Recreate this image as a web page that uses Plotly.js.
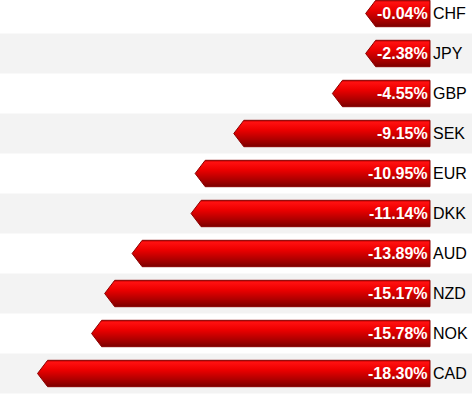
<!DOCTYPE html>
<html>
<head>
<meta charset="utf-8">
<script src="https://cdn.plot.ly/plotly-3.0.1.min.js"></script>
<style>
html,body{margin:0;padding:0;background:#fff;overflow:hidden;}
#chart{width:472px;height:398px;}
</style>
</head>
<body>
<div id="chart"></div>
<script>
// ---- data ----
var currencies = ['CHF','JPY','GBP','SEK','EUR','DKK','AUD','NZD','NOK','CAD'];
var changes = [-0.04,-2.38,-4.55,-9.15,-10.95,-11.14,-13.89,-15.17,-15.78,-18.30];
var valueLabels = changes.map(function(v){ return v.toFixed(2) + '%'; });

// ---- style constants ----
var MIN_LEN = 3.0;      // minimum bar length (data units) to hold the label
var HEAD = 0.47;        // arrow head length (data units)
var HALF = 0.33;        // half bar height (category units)
var FONT = 'Liberation Sans, Arial, sans-serif';

var traces = [];
changes.forEach(function(v, i){
  var left = Math.min(v, -MIN_LEN);
  traces.push({
    type: 'scatter',
    mode: 'lines',
    x: [0, left + HEAD, left, left + HEAD, 0, 0],
    y: [i - HALF, i - HALF, i, i + HALF, i + HALF, i - HALF],
    fill: 'toself',
    fillgradient: {
      type: 'vertical',
      colorscale: [[0, '#7a0000'], [0.15, '#990000'], [0.65, '#ee0000'], [0.92, '#ff1010'], [1, '#c00000']]
    },
    line: {color: '#8a0000', width: 1},
    hoverinfo: 'skip',
    showlegend: false
  });
});

var shapes = [];
currencies.forEach(function(c, i){
  if (i % 2 === 1) {
    shapes.push({
      type: 'rect', layer: 'below', xref: 'paper', yref: 'y',
      x0: 0, x1: 1, y0: i - 0.5, y1: i + 0.5,
      fillcolor: '#f3f3f3', line: {width: 0}
    });
  }
});

var annotations = [];
currencies.forEach(function(c, i){
  annotations.push({
    x: 0, y: i, xref: 'x', yref: 'y', text: '<b>' + valueLabels[i] + '</b>',
    showarrow: false, xanchor: 'right', yanchor: 'middle', xshift: 0,
    font: {family: FONT, size: 16, color: '#ffffff'}
  });
  annotations.push({
    x: 0, y: i, xref: 'x', yref: 'y', text: c,
    showarrow: false, xanchor: 'left', yanchor: 'middle', xshift: 1,
    font: {family: FONT, size: 16, color: '#000000'}
  });
});

var layout = {
  width: 472, height: 398,
  margin: {l: 0, r: 0, t: 0, b: 0, pad: 0},
  paper_bgcolor: '#ffffff', plot_bgcolor: '#ffffff',
  xaxis: {range: [-20.05, 1.96], visible: false, fixedrange: true},
  yaxis: {range: [9.6125, -0.3375], visible: false, fixedrange: true},
  shapes: shapes,
  annotations: annotations,
  showlegend: false
};

Plotly.newPlot('chart', traces, layout, {displayModeBar: false, staticPlot: true});
</script>
</body>
</html>
